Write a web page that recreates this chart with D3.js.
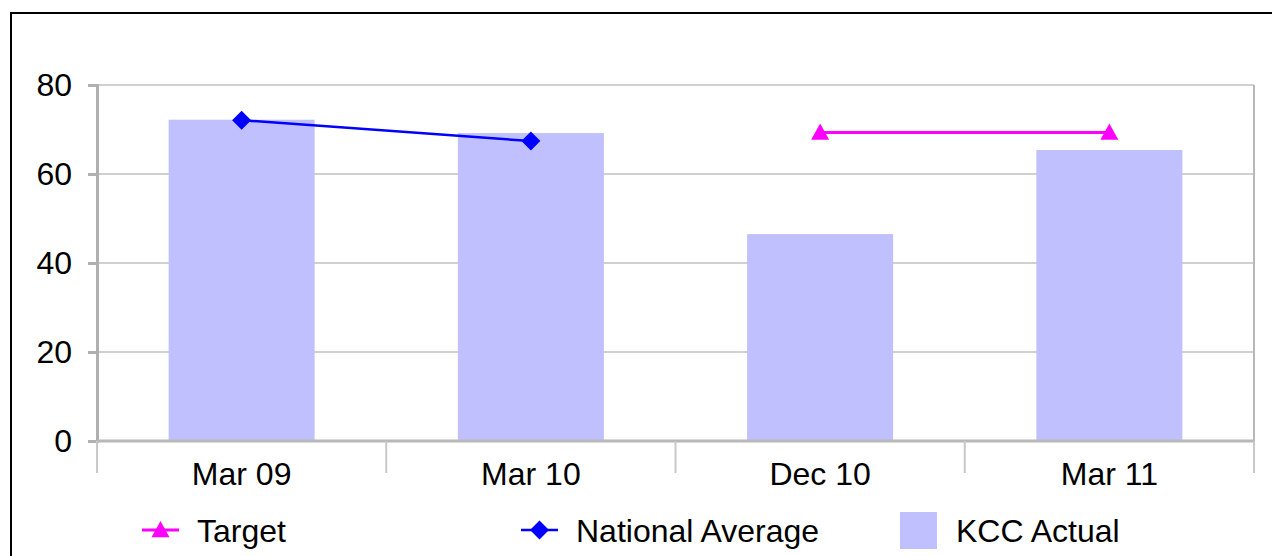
<!DOCTYPE html>
<html>
<head>
<meta charset="utf-8">
<script src="https://cdn.jsdelivr.net/npm/d3@7"></script>
<style>
  body { margin: 0; background: #fff; }
  svg { display: block; font-family: "Liberation Sans", Arial, sans-serif; }
</style>
</head>
<body>
<div id="chart"></div>
<script>
var categories = ["Mar 09", "Mar 10", "Dec 10", "Mar 11"]
var kccActual = [72.2, 69.2, 46.5, 65.4]
var nationalAverage = [72.1, 67.4, null, null]
var target = [null, null, 69.3, 69.3]
var yTicks = [0, 20, 40, 60, 80]

var width = 1272, height = 556
var plot = {left: 97, right: 1254, top: 85, bottom: 441}
var fontSize = 32

var svg = d3.select("#chart").append("svg")
  .attr("width", width)
  .attr("height", height)

// outer frame
svg.append("rect")
  .attr("x", 11).attr("y", 13)
  .attr("width", width + 20).attr("height", height + 20)
  .attr("fill", "none")
  .attr("stroke", "#000")
  .attr("stroke-width", 2)

var x = d3.scaleBand().domain(categories).range([plot.left, plot.right])
var y = d3.scaleLinear().domain([0, 80]).range([plot.bottom, plot.top])
var cx = function(d) { return x(d) + x.bandwidth() / 2 }

// gridlines
svg.append("g")
  .selectAll("line")
  .data(yTicks.filter(function(d) { return d > 0 }))
  .enter().append("line")
  .attr("x1", plot.left).attr("x2", plot.right)
  .attr("y1", function(d) { return y(d) }).attr("y2", function(d) { return y(d) })
  .attr("stroke", "#d0d0d0")
  .attr("stroke-width", 2)

// right edge of plot
svg.append("line")
  .attr("x1", plot.right).attr("x2", plot.right)
  .attr("y1", plot.top).attr("y2", plot.bottom)
  .attr("stroke", "#b8b8b8").attr("stroke-width", 2)

// bars
svg.append("g")
  .selectAll("rect")
  .data(kccActual)
  .enter().append("rect")
  .attr("x", function(d, i) { return cx(categories[i]) - 73 })
  .attr("width", 146)
  .attr("y", function(d) { return y(d) })
  .attr("height", function(d) { return y(0) - y(d) })
  .attr("fill", "#c0c0ff")

// y axis
var yAxis = svg.append("g")
  .attr("transform", "translate(" + plot.left + ",0)")
  .call(d3.axisLeft(y).tickValues(yTicks).tickSize(9).tickPadding(16))
yAxis.select(".domain").attr("stroke", "#b0b0b0").attr("stroke-width", 3)
yAxis.selectAll(".tick line").attr("stroke", "#b0b0b0").attr("stroke-width", 3)
yAxis.selectAll("text").attr("font-size", fontSize).attr("fill", "#000")
  .attr("font-family", "Liberation Sans, Arial, sans-serif")

// x axis baseline + category separators
svg.append("line")
  .attr("x1", plot.left).attr("x2", plot.right)
  .attr("y1", y(0)).attr("y2", y(0))
  .attr("stroke", "#b8b8b8").attr("stroke-width", 3)

var sep = categories.map(function(d) { return x(d) }).concat([plot.right])
svg.append("g")
  .selectAll("line")
  .data(sep)
  .enter().append("line")
  .attr("x1", function(d) { return d }).attr("x2", function(d) { return d })
  .attr("y1", y(0)).attr("y2", 473)
  .attr("stroke", "#c8c8c8").attr("stroke-width", 2)

svg.append("g")
  .selectAll("text")
  .data(categories)
  .enter().append("text")
  .attr("x", cx)
  .attr("y", 485)
  .attr("text-anchor", "middle")
  .attr("font-size", fontSize)
  .text(function(d) { return d })

// marker shapes
var diamond = {
  draw: function(ctx, size) {
    var r = Math.sqrt(size) / 2
    ctx.moveTo(0, -r); ctx.lineTo(r, 0); ctx.lineTo(0, r); ctx.lineTo(-r, 0); ctx.closePath()
  }
}
var triangle = {
  draw: function(ctx, size) {
    var r = Math.sqrt(size) / 2
    ctx.moveTo(0, -r); ctx.lineTo(r, r * 0.8); ctx.lineTo(-r, r * 0.8); ctx.closePath()
  }
}

// lines
function drawSeries(values, color, lw, symbol, size) {
  var pts = values.map(function(v, i) { return {c: categories[i], v: v} })
    .filter(function(d) { return d.v != null })
  var line = d3.line().x(function(d) { return cx(d.c) }).y(function(d) { return y(d.v) })
  svg.append("path")
    .datum(pts)
    .attr("d", line)
    .attr("fill", "none")
    .attr("stroke", color)
    .attr("stroke-width", lw)
  svg.append("g")
    .selectAll("path")
    .data(pts)
    .enter().append("path")
    .attr("transform", function(d) { return "translate(" + cx(d.c) + "," + y(d.v) + ")" })
    .attr("d", d3.symbol().type(symbol).size(size))
    .attr("fill", color)
}

drawSeries(nationalAverage, "#0000ff", 2.5, diamond, 361)
drawSeries(target, "#ff00ff", 3, triangle, 324)

// legend
var lg = svg.append("g")
function legendLine(x0, color, lw, symbol, size, label) {
  lg.append("line")
    .attr("x1", x0).attr("x2", x0 + 37)
    .attr("y1", 530).attr("y2", 530)
    .attr("stroke", color).attr("stroke-width", lw)
  lg.append("path")
    .attr("transform", "translate(" + (x0 + 18.5) + ",530)")
    .attr("d", d3.symbol().type(symbol).size(size))
    .attr("fill", color)
  lg.append("text")
    .attr("x", x0 + 55).attr("y", 542)
    .attr("font-size", fontSize)
    .text(label)
}
legendLine(142, "#ff00ff", 3, triangle, 324, "Target")
legendLine(521, "#0000ff", 2.5, diamond, 361, "National Average")
lg.append("rect")
  .attr("x", 900).attr("y", 512)
  .attr("width", 37).attr("height", 37)
  .attr("fill", "#c0c0ff")
lg.append("text")
  .attr("x", 956).attr("y", 542)
  .attr("font-size", fontSize)
  .text("KCC Actual")
</script>
</body>
</html>
